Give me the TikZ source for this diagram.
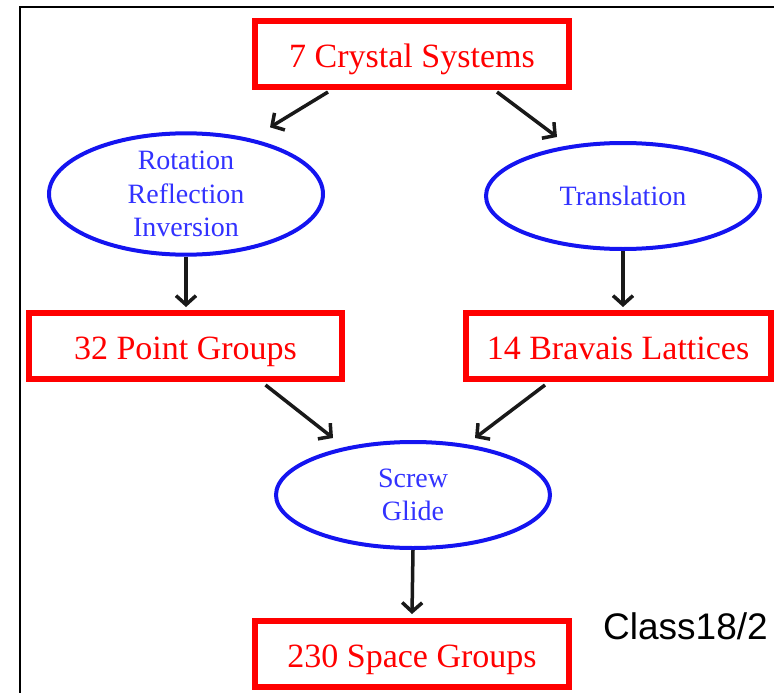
\documentclass[tikz,border=0pt]{standalone}
\usepackage{fontspec}
\setmainfont{Liberation Serif}
\newfontfamily\labelsans{Liberation Sans}
\usetikzlibrary{shapes.geometric,arrows.meta,calc}
\definecolor{boxred}{RGB}{255,0,0}
\definecolor{ellblue}{RGB}{20,20,240}
\definecolor{txtblue}{RGB}{50,50,255}
\tikzset{
  redbox/.style={draw=boxred, line width=6pt, text=boxred, minimum height=66pt, inner sep=0pt,
    text height=26pt, text depth=0pt, font=\fontsize{34}{38}\selectfont},
  blueell/.style={ellipse, draw=ellblue, line width=4pt, text=txtblue, minimum width=274pt,
    minimum height=106pt, inner sep=0pt, align=center, font=\fontsize{28}{33.5}\selectfont},
  arr/.style={draw=black!90, line width=3.5pt, -{Straight Barb[length=9pt,width=20pt,line width=3.5pt]}},
}
\begin{document}
\begin{tikzpicture}[x=1pt,y=-1pt]
\useasboundingbox (0,0) rectangle (774,693);
\draw[line width=2.2pt] (20,700) -- (20,7) -- (780,7);
\node[redbox, minimum width=314pt] (cs) at (412,54) {7 Crystal Systems};
\node[blueell] (rri) at (186,194) {Rotation\\Reflection\\Inversion};
\node[blueell, text depth=0pt] (tr) at (623,196) {Translation};
\node[redbox, minimum width=313pt] (pg) at (185.5,346) {32 Point Groups};
\node[redbox, minimum width=305pt] (bl) at (618,346) {14 Bravais Lattices};
\node[blueell] (sg) at (413,495) {Screw\\Glide};
\node[redbox, minimum width=314pt] (spg) at (412,654) {230 Space Groups};
\node[anchor=base west, inner sep=0pt, font=\labelsans\fontsize{37}{40}\selectfont] (cl) at (603,639) {Class18/2};
\draw[arr] ($(cs.south)+(-84,2)$) -- ($(rri.north)+(84,-4)$);
\draw[arr] ($(cs.south)+(85,2)$) -- ($(tr.north)+(-66,-4)$);
\draw[arr] (rri.south) -- ($(pg.north)+(0.5,-3)$);
\draw[arr] (tr.south) -- ($(bl.north)+(5,-3)$);
\draw[arr] ($(pg.south)+(80,3)$) -- ($(sg.north)+(-80,-2)$);
\draw[arr] ($(bl.south)+(-73,3)$) -- ($(sg.north)+(62,-2)$);
\draw[arr] (sg.south) -- ($(spg.north)+(0,-4)$);
\end{tikzpicture}
\end{document}
